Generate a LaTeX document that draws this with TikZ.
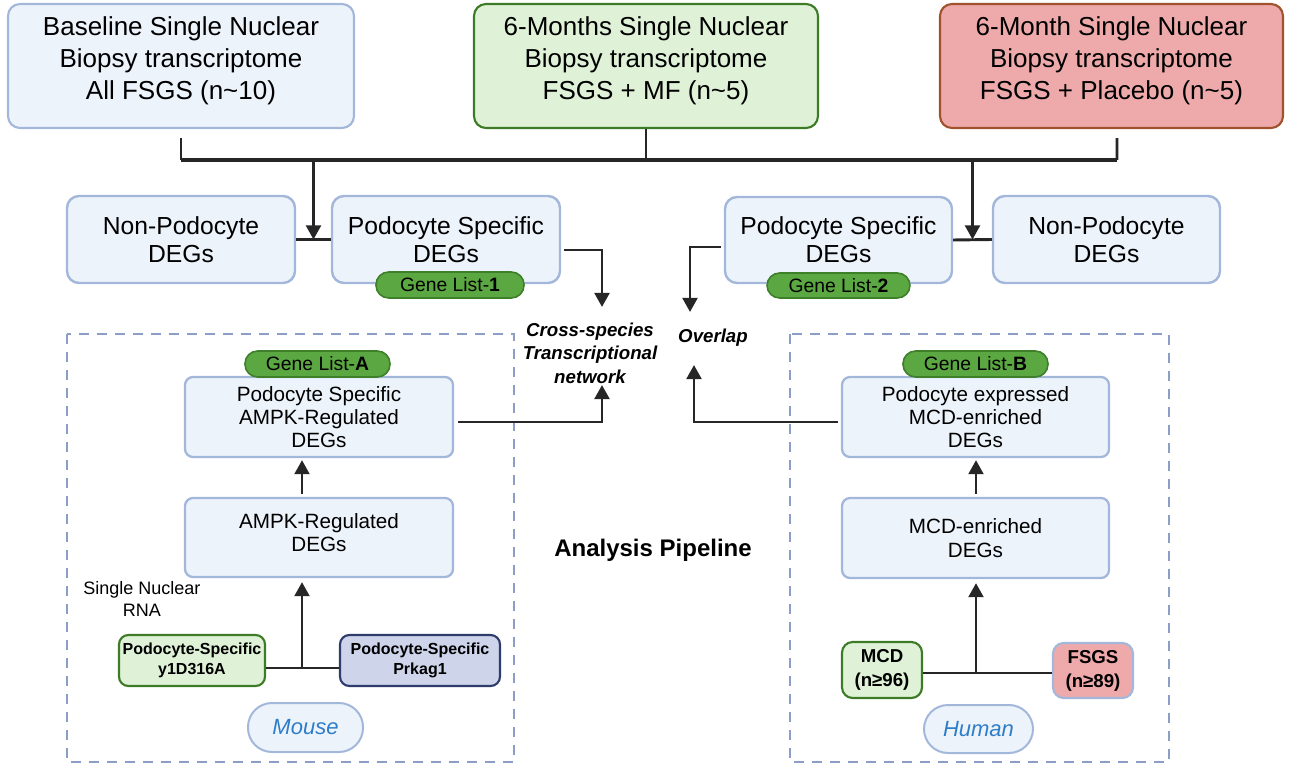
\documentclass[tikz,border=0pt]{standalone}
\usepackage{fontspec}
\setmainfont{Liberation Sans}
\usetikzlibrary{arrows.meta}
\definecolor{bluefill}{HTML}{EDF3FB}
\definecolor{blueedge}{HTML}{A3B7DB}
\definecolor{greenfill}{HTML}{DFF2D8}
\definecolor{greenedge}{HTML}{3E7B27}
\definecolor{pinkfill}{HTML}{EEAAAA}
\definecolor{pinkedge}{HTML}{A0522D}
\definecolor{pillfill}{HTML}{5BA843}
\definecolor{pilledge}{HTML}{3E7F2A}
\definecolor{prkfill}{HTML}{CED4EA}
\definecolor{prkedge}{HTML}{2E3B6B}
\definecolor{dashc}{HTML}{8D9EC6}
\definecolor{spec}{HTML}{2D7DC8}
\definecolor{arrowc}{HTML}{262626}
\newcommand\fsz[2]{\fontsize{#1}{#2}\selectfont}
\begin{document}
\begin{tikzpicture}[x=0.75pt,y=-0.75pt,
  sz/.style 2 args={minimum width=#1*0.75pt, minimum height=#2*0.75pt},
  base/.style={draw, rounded corners=9pt, align=center, inner sep=0pt, text=black},
  topblue/.style={base, fill=bluefill, draw=blueedge, line width=1.6pt, font=\fsz{19.5}{24}},
  topgreen/.style={base, fill=greenfill, draw=greenedge, line width=1.6pt, font=\fsz{19.5}{24}},
  toppink/.style={base, fill=pinkfill, draw=pinkedge, line width=1.6pt, font=\fsz{19.5}{24}},
  rowbox/.style={base, fill=bluefill, draw=blueedge, line width=1.8pt, font=\fsz{18.5}{21}},
  midbox/.style={base, fill=bluefill, draw=blueedge, line width=1.7pt, rounded corners=6pt, font=\fsz{15.5}{17.5}},
  pill/.style={draw=pilledge, fill=pillfill, line width=1.2pt, rounded corners=9.5pt, inner sep=0pt, font=\fsz{14.5}{16}},
  smallbold/.style={base, line width=1.6pt, rounded corners=7pt, font=\fsz{12}{15}\bfseries},
  cohort/.style={base, line width=1.6pt, rounded corners=8pt, font=\fsz{14}{18}\bfseries},
  species/.style={draw=blueedge, fill=bluefill, line width=1.5pt, rounded corners=18pt, inner sep=0pt, text=spec, font=\fsz{16.5}{18}\itshape},
  emph/.style={align=center, inner sep=0pt, font=\fsz{14}{17.5}\bfseries\itshape},
  grp/.style={draw=dashc, line width=2.2pt, dash pattern=on 7.5pt off 6pt},
  ln/.style={draw=arrowc, line width=2.2pt},
  arr/.style={draw=arrowc, line width=2.2pt, -{Triangle[length=10.5pt,width=11pt]}}
]
\useasboundingbox (0,0) rectangle (1290,763);

% dashed groups
\draw[grp] (67,334) rectangle (514,762);
\draw[grp] (790,334) rectangle (1169,762);

% top boxes
\node[topblue, sz={346}{124}] (b1) at (181,66) {Baseline Single Nuclear\\Biopsy transcriptome\\All FSGS (n\textasciitilde10)\\[-12.8pt]};
\node[topgreen, sz={344}{124}] (b2) at (646,66) {6-Months Single Nuclear\\Biopsy transcriptome\\FSGS + MF (n\textasciitilde5)\\[-12.8pt]};
\node[toppink, sz={343}{124}] (b3) at (1111.5,66) {6-Month Single Nuclear\\Biopsy transcriptome\\FSGS + Placebo (n\textasciitilde5)\\[-12.8pt]};

% second row
\node[rowbox, sz={228}{87}] (n1) at (181,239.5) {Non-Podocyte\\DEGs};
\node[rowbox, sz={228}{87}] (p1) at (446,239.5) {Podocyte Specific\\DEGs};
\node[rowbox, sz={227}{86}] (p2) at (838.5,240) {Podocyte Specific\\DEGs};
\node[rowbox, sz={227}{87}] (n2) at (1106.5,239.5) {Non-Podocyte\\DEGs};
\node[pill, sz={148}{26}] (g1) at (450,285) {Gene List-\textbf{1}};
\node[pill, sz={143}{25}] (g2) at (838.5,285.5) {Gene List-\textbf{2}};

% centre labels
\node[emph] (cs) at (590,353) {Cross-species\\Transcriptional\\network};
\node[emph] (ov) at (713,338) {Overlap};
\node[font=\fsz{18}{20}\bfseries, inner sep=0pt] (ap) at (653,550) {Analysis Pipeline};

% mouse side
\node[midbox, sz={268}{80}] (pa) at (319,417) {Podocyte Specific\\AMPK-Regulated\\DEGs};
\node[midbox, sz={268}{79}] (am) at (319,537.5) {AMPK-Regulated\\DEGs\\[-10pt]};
\node[pill, sz={145}{26}] (ga) at (317.5,364) {Gene List-\textbf{A}};
\node[align=center, inner sep=0pt, font=\fsz{13.5}{16.5}] (sn) at (142,599) {Single Nuclear\\RNA};
\node[smallbold, fill=greenfill, draw=greenedge, sz={146}{51}] (y1) at (192,660.5) {Podocyte-Specific\\y1D316A};
\node[smallbold, fill=prkfill, draw=prkedge, sz={160}{51}] (pk) at (420,660.5) {Podocyte-Specific\\Prkag1};
\node[species, sz={115}{49}] (mo) at (305.5,727.5) {Mouse};

% human side
\node[midbox, sz={267}{80}] (pb) at (975.5,417) {Podocyte expressed\\MCD-enriched\\DEGs};
\node[midbox, sz={267}{80}] (md) at (975.5,538) {MCD-enriched\\DEGs};
\node[pill, sz={145}{26}] (gb) at (975.5,364) {Gene List-\textbf{B}};
\node[cohort, fill=greenfill, draw=greenedge, sz={80}{56}] (mcd) at (882,670) {MCD\\(n≥96)};
\node[cohort, fill=pinkfill, draw=blueedge, sz={80}{55}] (fs) at (1093,670.5) {FSGS\\(n≥89)};
\node[species, sz={109}{48}] (hu) at (978.5,729) {Human};

% coordinates
\coordinate (barL) at (181,160);
\coordinate (barR) at (1117,160);
\coordinate (tL) at (313.5,239.5);
\coordinate (tR) at (972.5,239.5);
\coordinate (csIn) at (602,307);
\coordinate (ovIn) at (690,312);
\coordinate (csBot) at (602,385);
\coordinate (ovBot) at (694,365);
\coordinate (jm) at (302,668);
\coordinate (jh) at (976,673);

% top merge
\draw[ln] ([yshift=-6.75pt]b1.south) -- (b1.south |- barL);
\draw[ln] (b2.south) -- (b2.south |- barL);
\draw[ln] ([xshift=4.1pt,yshift=-6.75pt]b3.south) -- (barR);
\draw[draw=arrowc, line width=3pt] (barL) -- (barR);
\draw[arr] (tL |- barL) -- (tL);
\draw[arr] (tR |- barR) -- (tR);
\draw[ln] (n1.east) -- (p1.west);
\draw[ln] (p2.east) -- (n2.west);

% to centre
\draw[arr] ([xshift=2pt,yshift=-7.9pt]p1.east) -| (csIn);
\draw[arr] ([xshift=-2pt,yshift=-5.25pt]p2.west) -| (ovIn);
\draw[arr] ([xshift=3pt,yshift=-3.75pt]pa.east) -| (csBot);
\draw[arr] ([xshift=-2pt,yshift=-3.75pt]pb.west) -| (ovBot);

% mouse flow
\draw[arr] ([yshift=2pt]am.north -| jm) -- ([yshift=-1.5pt]pa.south -| jm);
\draw[ln] (y1.east |- jm) -- (pk.west |- jm);
\draw[arr] (jm) -- ([yshift=-3pt]am.south -| jm);

% human flow
\draw[arr] ([yshift=2pt]md.north -| jh) -- ([yshift=-1.5pt]pb.south -| jh);
\draw[ln] (mcd.east |- jh) -- (fs.west |- jh);
\draw[arr] (jh) -- ([yshift=-3pt]md.south -| jh);
\end{tikzpicture}
\end{document}
